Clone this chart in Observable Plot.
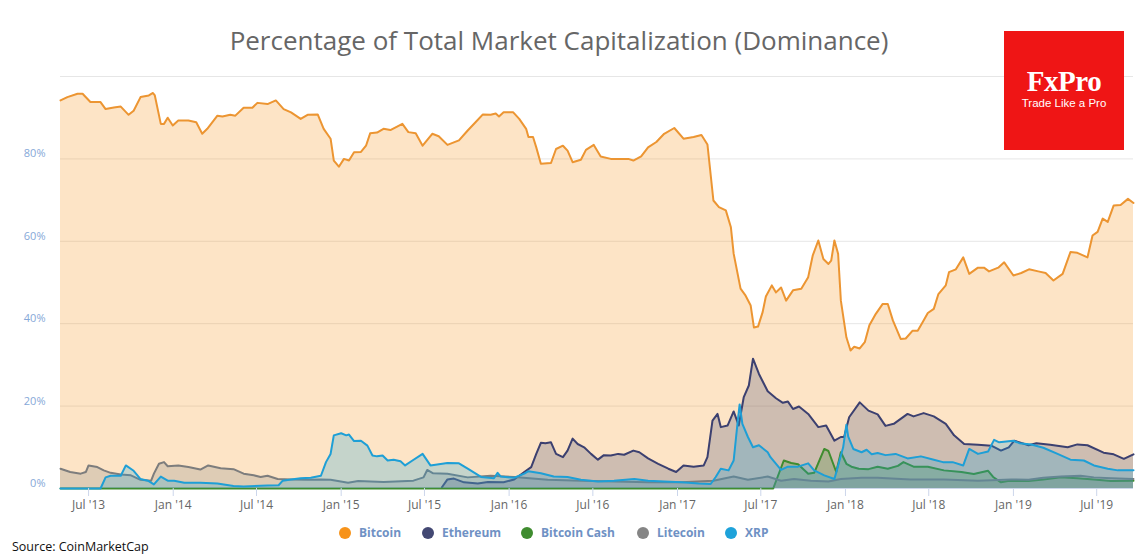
<!DOCTYPE html>
<html>
<head>
<meta charset="utf-8">
<script src="https://cdn.jsdelivr.net/npm/d3@7"></script>
<script src="https://cdn.jsdelivr.net/npm/@observablehq/plot@0.6"></script>
<style>
  body { margin: 0; background: #fff; }
  #wrap { position: relative; width: 1148px; height: 558px; overflow: hidden; font-family: "Open Sans", "DejaVu Sans", sans-serif; }
  #chart { position: absolute; left: 0; top: 0; }
  #title { position: absolute; top: 27px; left: 559px; transform: translateX(-50%); white-space: nowrap; font-size: 26px; color: #666; line-height: 1; }
  #logo { position: absolute; left: 1004px; top: 31px; width: 120px; height: 119px; background: #ef1515; color: #fff; text-align: center; }
  #logo .brand { position: absolute; left: 0; right: 0; top: 36px; font-family: "Liberation Serif", "DejaVu Serif", serif; font-weight: bold; font-size: 29px; line-height: 1; letter-spacing: -0.5px; }
  #logo .tag { position: absolute; left: 0; right: 0; top: 67px; font-family: "Liberation Sans", Arial, sans-serif; font-size: 11.5px; line-height: 1; }
  .leg { position: absolute; top: 524px; display: flex; align-items: center; font-size: 12px; font-weight: bold; color: #6f91c4; white-space: nowrap; }
  .leg .dot { width: 12px; height: 12px; border-radius: 50%; margin-right: 8px; }
  #source { position: absolute; left: 12px; top: 538px; font-size: 12.5px; color: #111; font-family: "Open Sans", "Liberation Sans", sans-serif; }
</style>
</head>
<body>
<div id="wrap">
  <div id="chart"></div>
  <div id="title">Percentage of Total Market Capitalization (Dominance)</div>
  <div id="logo"><div class="brand">FxPro</div><div class="tag">Trade Like a Pro</div></div>
  <div id="legend"></div>
  <div id="source">Source: CoinMarketCap</div>
</div>
<script>
// ---- data (dominance, % of total market cap) ----
const seriesNames = ["Bitcoin", "Ethereum", "Bitcoin Cash", "Litecoin", "XRP"];
const seriesColors = ["#f7931a", "#434873", "#3f8c2f", "#858585", "#1ea2da"];
const lineColors = ["#ec9532", "#3c4070", "#3f8c2f", "#7d7d7d", "#1e9fd6"];

const bitcoin = [
["2013-05-01",94.2],["2013-05-16",95.0],["2013-06-07",95.8],["2013-06-18",95.8],["2013-07-05",93.8],["2013-07-27",93.8],
["2013-08-07",92.1],["2013-08-25",92.5],["2013-09-09",92.7],["2013-09-26",90.7],["2013-10-07",91.7],["2013-10-22",95.0],
["2013-11-09",95.4],["2013-11-18",96.0],["2013-11-22",95.4],["2013-12-05",88.5],["2013-12-12",88.5],["2013-12-20",90.0],
["2013-12-31",88.1],["2014-01-12",89.3],["2014-02-03",89.3],["2014-02-20",88.9],["2014-03-05",86.1],["2014-03-16",87.3],
["2014-04-07",90.5],["2014-04-18",90.3],["2014-05-05",90.7],["2014-05-16",90.5],["2014-06-03",92.4],["2014-06-22",92.4],
["2014-07-03",93.6],["2014-07-25",93.3],["2014-08-12",94.2],["2014-08-29",92.1],["2014-09-14",91.3],["2014-10-05",89.7],
["2014-10-20",90.7],["2014-11-11",90.8],["2014-11-24",87.3],["2014-12-09",84.9],["2014-12-16",79.6],["2014-12-27",78.1],
["2015-01-07",80.0],["2015-01-18",79.6],["2015-01-29",81.6],["2015-02-13",81.7],["2015-02-24",83.2],["2015-03-05",86.2],
["2015-03-20",86.4],["2015-04-03",87.3],["2015-04-18",87.0],["2015-05-14",88.5],["2015-05-27",86.5],["2015-06-12",86.2],
["2015-06-27",83.2],["2015-07-18",86.1],["2015-08-01",85.5],["2015-08-20",83.4],["2015-09-14",84.5],["2015-10-03",86.9],
["2015-10-20",88.9],["2015-11-05",90.8],["2015-11-22",90.7],["2015-12-03",91.0],["2015-12-10",90.3],["2015-12-20",91.3],
["2016-01-10",91.3],["2016-01-23",89.7],["2016-02-07",87.3],["2016-02-12",85.3],["2016-02-22",85.3],["2016-02-29",82.8],
["2016-03-10",78.8],["2016-04-01",79.0],["2016-04-12",82.4],["2016-04-27",83.2],["2016-05-07",82.0],["2016-05-18",79.2],
["2016-06-05",79.8],["2016-06-16",82.2],["2016-07-03",83.4],["2016-07-18",80.6],["2016-08-09",80.0],["2016-09-01",80.0],
["2016-09-16",80.0],["2016-09-27",79.6],["2016-10-14",80.6],["2016-10-29",82.8],["2016-11-16",84.1],["2016-12-03",86.1],
["2016-12-25",87.5],["2017-01-14",84.9],["2017-02-05",85.3],["2017-02-22",85.8],["2017-03-07",83.5],["2017-03-20",69.9],
["2017-04-01",68.3],["2017-04-16",67.5],["2017-04-27",63.4],["2017-05-03",57.0],["2017-05-18",48.5],["2017-05-29",46.8],
["2017-06-09",44.4],["2017-06-16",39.1],["2017-06-25",39.3],["2017-07-05",42.8],["2017-07-12",46.6],["2017-07-25",49.3],
["2017-08-03",47.6],["2017-08-14",48.8],["2017-08-25",45.6],["2017-09-09",48.1],["2017-09-27",48.5],["2017-10-12",51.3],
["2017-10-22",56.6],["2017-11-03",60.2],["2017-11-14",55.7],["2017-11-25",54.5],["2017-12-01",55.3],["2017-12-08",60.2],
["2017-12-16",57.0],["2017-12-22",45.6],["2018-01-03",36.7],["2018-01-12",33.5],["2018-01-20",34.4],["2018-02-01",34.0],
["2018-02-12",35.5],["2018-02-22",39.6],["2018-03-08",42.4],["2018-03-23",44.8],["2018-04-03",44.8],["2018-04-14",40.8],
["2018-05-01",36.3],["2018-05-12",36.4],["2018-05-27",38.3],["2018-06-07",38.3],["2018-06-18",40.4],["2018-06-29",42.6],
["2018-07-12",43.6],["2018-07-22",47.2],["2018-08-07",49.3],["2018-08-14",52.5],["2018-08-29",53.2],["2018-09-14",56.1],
["2018-09-27",52.1],["2018-10-16",53.6],["2018-10-29",53.6],["2018-11-09",52.7],["2018-11-29",53.6],["2018-12-12",54.9],
["2019-01-01",51.7],["2019-01-18",52.3],["2019-02-04",53.2],["2019-02-24",52.7],["2019-03-12",52.3],["2019-03-29",50.5],
["2019-04-18",52.1],["2019-05-05",57.4],["2019-05-20",57.2],["2019-06-11",56.1],["2019-06-22",61.4],["2019-07-03",62.3],
["2019-07-14",65.5],["2019-07-25",64.7],["2019-08-07",68.7],["2019-08-22",68.8],["2019-09-07",70.3],["2019-09-19",69.3]
];

const ethereum = [
["2015-08-08",0.3],["2015-08-20",2.2],["2015-09-03",2.4],["2015-09-25",1.5],["2015-10-25",1.2],["2015-11-16",1.6],
["2015-12-20",1.5],["2016-01-12",2.2],["2016-02-03",4.0],["2016-02-18",5.2],["2016-02-29",8.4],["2016-03-10",11.1],
["2016-03-20",11.0],["2016-04-01",11.2],["2016-04-12",8.4],["2016-04-27",7.6],["2016-05-07",9.2],["2016-05-18",12.1],
["2016-05-29",10.8],["2016-06-12",10.0],["2016-06-27",8.4],["2016-07-12",7.0],["2016-07-25",8.1],["2016-08-09",8.0],
["2016-08-25",8.4],["2016-09-07",8.2],["2016-09-27",9.2],["2016-10-10",8.8],["2016-10-29",7.3],["2016-11-20",6.0],
["2016-12-12",4.8],["2016-12-29",4.0],["2017-01-14",5.6],["2017-02-05",5.3],["2017-02-27",5.6],["2017-03-07",7.6],
["2017-03-18",16.5],["2017-03-29",18.1],["2017-04-05",14.9],["2017-04-20",15.3],["2017-05-03",18.7],["2017-05-14",15.3],
["2017-05-25",22.2],["2017-06-05",25.0],["2017-06-14",31.5],["2017-06-27",27.8],["2017-07-16",23.6],["2017-08-03",21.9],
["2017-08-18",20.8],["2017-08-29",21.1],["2017-09-09",19.3],["2017-09-22",19.9],["2017-10-12",18.1],["2017-11-03",14.9],
["2017-11-20",15.3],["2017-12-08",11.6],["2017-12-22",12.5],["2017-12-29",12.5],["2018-01-09",17.3],["2018-02-01",20.9],
["2018-02-20",18.9],["2018-03-12",18.0],["2018-03-29",15.2],["2018-04-16",15.7],["2018-05-16",18.1],["2018-05-29",17.5],
["2018-06-20",18.3],["2018-07-12",17.5],["2018-08-07",15.7],["2018-08-25",12.9],["2018-09-16",10.8],["2018-10-16",10.6],
["2018-11-14",10.4],["2018-12-05",9.2],["2018-12-22",10.0],["2019-01-03",11.6],["2019-02-03",10.5],["2019-02-20",11.0],
["2019-03-22",10.6],["2019-04-29",10.0],["2019-05-20",10.7],["2019-06-11",10.5],["2019-07-16",8.7],["2019-08-07",8.3],
["2019-08-29",7.2],["2019-09-19",8.3]
];

const bitcoinCash = [
["2013-05-01",0],["2017-07-28",0],["2017-08-20",6.8],["2017-09-05",6.2],["2017-09-20",5.9],["2017-10-12",3.6],
["2017-10-25",3.8],["2017-11-16",9.6],["2017-11-25",9.1],["2017-12-12",4.0],["2017-12-22",8.8],["2018-01-03",6.0],
["2018-01-14",5.3],["2018-01-30",4.8],["2018-02-20",4.7],["2018-03-12",5.3],["2018-04-03",4.8],["2018-04-25",5.5],
["2018-05-07",6.4],["2018-05-29",5.3],["2018-06-29",5.3],["2018-08-03",4.4],["2018-09-10",4.0],["2018-10-07",3.5],
["2018-11-07",4.3],["2018-11-18",2.8],["2018-12-05",1.5],["2018-12-20",1.8],["2019-02-03",1.8],["2019-03-07",2.2],
["2019-04-14",2.7],["2019-05-20",2.5],["2019-06-25",2.2],["2019-08-01",1.8],["2019-09-19",1.9]
];

const litecoin = [
["2013-05-01",4.8],["2013-05-22",4.0],["2013-06-14",3.6],["2013-06-25",4.0],["2013-07-01",5.6],["2013-07-20",5.2],
["2013-08-03",4.4],["2013-08-18",3.8],["2013-09-09",3.4],["2013-10-01",3.2],["2013-10-22",2.1],["2013-11-14",1.9],
["2013-11-20",3.6],["2013-12-01",6.0],["2013-12-12",6.4],["2013-12-20",5.4],["2014-01-12",5.6],["2014-02-03",5.2],
["2014-03-01",4.6],["2014-03-18",5.6],["2014-04-14",4.9],["2014-05-12",4.7],["2014-06-03",3.6],["2014-06-25",3.2],
["2014-07-10",2.8],["2014-07-25",3.1],["2014-08-16",2.3],["2014-09-14",2.2],["2014-10-20",2.1],["2014-11-18",2.2],
["2014-12-09",2.1],["2015-01-16",1.4],["2015-02-07",1.8],["2015-04-03",1.6],["2015-06-07",1.9],["2015-06-29",2.7],
["2015-07-07",4.5],["2015-07-20",3.7],["2015-08-20",3.6],["2015-10-03",2.7],["2015-11-22",3.1],["2016-01-12",2.8],
["2016-03-25",2.1],["2016-06-05",1.9],["2016-08-16",1.7],["2016-10-29",1.5],["2017-01-10",1.5],["2017-03-20",1.9],
["2017-05-03",2.9],["2017-06-03",2.1],["2017-07-16",2.9],["2017-08-14",1.9],["2017-09-11",2.3],["2017-10-18",1.9],
["2017-11-25",1.7],["2017-12-22",2.3],["2018-02-05",2.6],["2018-03-12",2.6],["2018-05-22",2.2],["2018-08-03",2.2],
["2018-10-16",1.9],["2018-12-27",2.2],["2019-02-03",2.1],["2019-03-07",2.6],["2019-04-14",2.9],["2019-05-27",3.1],
["2019-06-25",2.7],["2019-08-01",2.5],["2019-09-19",2.3]
];

const xrp = [
["2013-05-01",0],["2013-07-27",0],["2013-08-07",2.7],["2013-08-18",3.1],["2013-09-09",3.1],["2013-09-20",5.6],
["2013-10-07",4.3],["2013-10-22",2.3],["2013-11-07",1.9],["2013-11-20",1.0],["2013-12-05",2.9],["2013-12-20",1.9],
["2014-01-03",1.9],["2014-01-25",1.4],["2014-03-01",1.4],["2014-04-07",1.2],["2014-05-12",0.6],["2014-06-03",0.5],
["2014-07-25",0.7],["2014-08-18",0.8],["2014-08-27",1.9],["2014-09-14",2.2],["2014-10-05",2.5],["2014-10-27",2.6],
["2014-11-18",3.1],["2014-11-29",6.4],["2014-12-09",8.4],["2014-12-16",12.9],["2015-01-01",13.4],["2015-01-12",12.9],
["2015-01-18",13.1],["2015-01-29",11.5],["2015-02-13",11.6],["2015-02-27",10.4],["2015-03-10",8.0],["2015-03-20",7.8],
["2015-04-01",8.0],["2015-04-12",6.8],["2015-04-25",7.0],["2015-05-10",6.6],["2015-05-20",5.6],["2015-06-05",6.8],
["2015-06-27",8.4],["2015-07-14",5.6],["2015-08-20",6.2],["2015-09-14",6.1],["2015-10-03",4.8],["2015-11-01",2.8],
["2015-11-29",2.5],["2015-12-07",3.8],["2015-12-14",2.9],["2016-01-12",2.6],["2016-02-03",3.6],["2016-02-12",4.2],
["2016-03-10",3.7],["2016-04-07",2.9],["2016-05-07",2.8],["2016-06-05",2.1],["2016-07-12",1.7],["2016-08-16",1.9],
["2016-09-29",2.3],["2016-10-29",1.9],["2016-12-03",1.7],["2017-01-10",1.5],["2017-02-16",1.2],["2017-03-14",1.1],
["2017-03-25",2.8],["2017-04-05",4.8],["2017-04-22",4.4],["2017-05-03",6.8],["2017-05-12",16.5],["2017-05-16",20.4],
["2017-05-22",15.7],["2017-06-03",12.5],["2017-06-14",10.0],["2017-06-27",10.5],["2017-07-16",8.8],["2017-07-22",7.6],
["2017-08-14",4.5],["2017-08-29",5.3],["2017-09-20",5.3],["2017-10-12",6.1],["2017-10-25",4.4],["2017-11-16",3.2],
["2017-12-08",2.3],["2017-12-27",10.0],["2018-01-03",15.5],["2018-01-07",12.6],["2018-01-18",9.6],["2018-02-05",8.8],
["2018-02-16",9.4],["2018-02-27",8.3],["2018-03-12",8.6],["2018-03-29",8.1],["2018-04-20",8.4],["2018-05-16",7.3],
["2018-06-14",7.8],["2018-07-12",7.0],["2018-08-01",6.4],["2018-08-22",6.4],["2018-09-14",5.6],["2018-09-27",9.6],
["2018-10-16",8.4],["2018-11-07",9.0],["2018-11-20",11.8],["2018-12-01",11.2],["2019-01-01",11.6],["2019-01-14",11.0],
["2019-02-09",10.7],["2019-03-07",9.9],["2019-04-07",8.4],["2019-05-05",7.0],["2019-06-03",6.8],["2019-06-25",5.6],
["2019-07-25",4.8],["2019-08-16",4.4],["2019-09-19",4.4]
];

const xTickDates = ["2013-07-01","2014-01-01","2014-07-01","2015-01-01","2015-07-01","2016-01-01","2016-07-01",
                    "2017-01-01","2017-07-01","2018-01-01","2018-07-01","2019-01-01","2019-07-01"];
const xTickLabels = ["Jul '13","Jan '14","Jul '14","Jan '15","Jul '15","Jan '16","Jul '16",
                     "Jan '17","Jul '17","Jan '18","Jul '18","Jan '19","Jul '19"];
const yTicks = [0, 20, 40, 60, 80];
const yTickLabels = ["0%", "20%", "40%", "60%", "80%"];
const gridValues = [20, 40, 60, 80, 100];

// ---- build ----
const raw = [bitcoin, ethereum, bitcoinCash, litecoin, xrp];
const series = raw.map((arr, i) => arr.map(([d, v]) => ({ coin: seriesNames[i], date: new Date(d + "T00:00:00Z"), value: v })));
const tickDates = xTickDates.map(d => new Date(d + "T00:00:00Z"));
const labelByTime = new Map(tickDates.map((d, i) => [d.getTime(), xTickLabels[i]]));
const yLabelByValue = new Map(yTicks.map((v, i) => [v, yTickLabels[i]]));

const marks = [
  Plot.ruleY(gridValues, { stroke: "#e6e6e6", strokeWidth: 1 }),
  Plot.ruleY([0], { stroke: "#ccd6eb" })
];
series.forEach((data, i) => {
  marks.push(Plot.areaY(data, { x: "date", y: "value", fill: seriesColors[i], fillOpacity: 0.25 }));
  marks.push(Plot.lineY(data, { x: "date", y: "value", stroke: lineColors[i], strokeWidth: 2, strokeLinejoin: "round" }));
});
marks.push(Plot.axisX({ ticks: tickDates, tickFormat: d => labelByTime.get(d.getTime()), tickSize: 8, tickPadding: 4,
  stroke: "#ccd6eb", strokeOpacity: 1, fill: "#666", fontSize: 12, label: null }));
marks.push(Plot.axisY({ ticks: yTicks, tickFormat: v => yLabelByValue.get(v), tickSize: 0, tickPadding: 15, dy: -5,
  fill: "#86a8d8", fontSize: 11, label: null }));

const chart = Plot.plot({
  width: 1148,
  height: 558,
  marginLeft: 60,
  marginRight: 15,
  marginTop: 76,
  marginBottom: 70,
  style: { background: "transparent", fontFamily: "'Open Sans', 'DejaVu Sans', sans-serif", fontSize: "12px", overflow: "visible" },
  x: { type: "utc", domain: [new Date("2013-05-01T00:00:00Z"), new Date("2019-09-19T00:00:00Z")], label: null },
  y: { domain: [0, 100], label: null },
  marks
});
document.getElementById("chart").appendChild(chart);

// legend
const legendLefts = [339, 422, 521, 637, 725];
const legend = document.getElementById("legend");
seriesNames.forEach((name, i) => {
  const item = document.createElement("div");
  item.className = "leg";
  item.style.left = legendLefts[i] + "px";
  const dot = document.createElement("span");
  dot.className = "dot";
  dot.style.background = seriesColors[i];
  const label = document.createElement("span");
  label.textContent = name;
  item.appendChild(dot);
  item.appendChild(label);
  legend.appendChild(item);
});
</script>
</body>
</html>
